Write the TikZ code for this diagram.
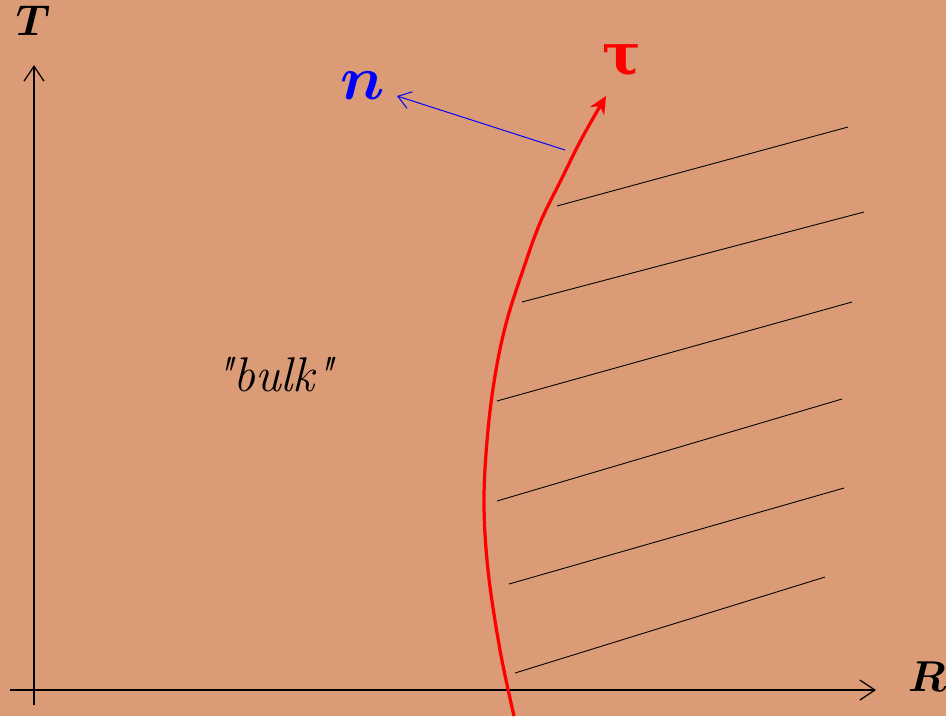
\documentclass[tikz,border=0pt]{standalone}
\usepackage{fontspec}
\usepackage{amsmath,bm}
\newfontfamily\taufont{DejaVu Serif}
\newfontfamily\lmfont{Latin Modern Roman}
\usetikzlibrary{arrows.meta,positioning}
\definecolor{sand}{RGB}{218,155,118}

\begin{document}
\begin{tikzpicture}[
  x=0.4pt,y=-0.4pt,
  axis/.style={line width=0.5pt,-{Straight Barb[length=6pt,width=8pt]}},
  hatch/.style={line width=0.35pt},
  edge/.style={red,line width=1.3pt,-{Stealth[length=7pt,width=6.5pt]}},
  normal/.style={blue,line width=0.4pt,-{Straight Barb[length=5pt,width=7pt]}},
  lbl/.style={inner sep=0pt}
]
  \fill[sand] (0,0) rectangle (946,716);
  \useasboundingbox (0,0) rectangle (946,716);

  % axes
  \coordinate (ybot) at (34,705);
  \coordinate (ytop) at (34,65);
  \coordinate (xlft) at (10,690);
  \coordinate (xrgt) at (876,690);
  \draw[axis] (ybot) -- (ytop);
  \draw[axis] (xlft) -- (xrgt);
  \node[lbl] (T) at (33,21) {\LARGE$\bm{T}$};
  \node[lbl] (R) at (927,677) {\LARGE$\bm{R}$};

  % boundary
  \draw[edge] plot[smooth,tension=0.6] coordinates
    {(514,716) (500,650) (488,570) (484,500) (488,430) (496,370) (507,320)
     (523,270) (540,223) (561,180) (582,138) (606,96)};
  \node[lbl,red] (tau) at (622,61) {\fontsize{23}{25}\selectfont\taufont\bfseries τ};

  % normal vector
  \coordinate (nfoot) at (565,150);
  \coordinate (ntip) at (397,96);
  \draw[normal] (nfoot) -- (ntip);
  \node[lbl,blue] (n) at (363,86) {\Huge$\bm{n}$};

  % outside region
  \foreach \ya/\xa/\yb/\xb in {206/557/127/848, 302/522/212/864, 401/497/302/852,
      501/497/399/842, 584/509/488/844, 673/515/577/825}
    \draw[hatch] (\xa,\ya) -- (\xb,\yb);

  \node[lbl] (bulk) at (274,375) {\fontsize{19.5}{21}\selectfont\lmfont\itshape "bulk"};
\end{tikzpicture}
\end{document}
